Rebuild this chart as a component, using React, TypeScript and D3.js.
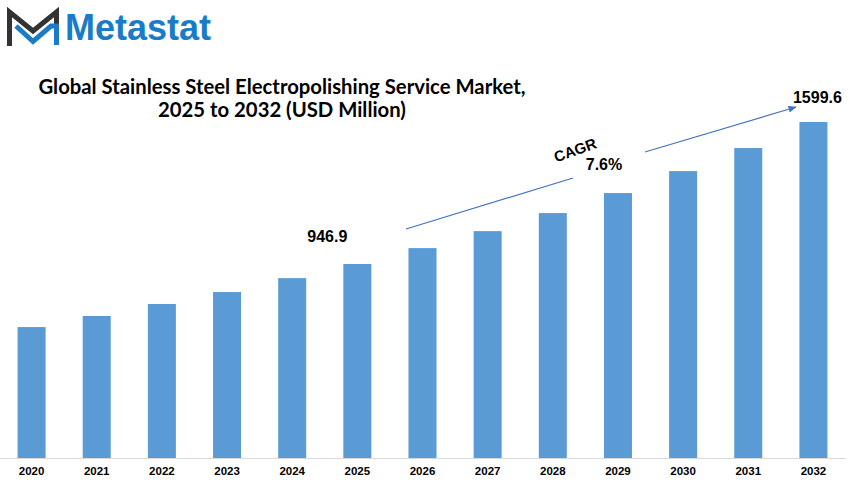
import React, { useEffect, useRef } from 'react';
import * as d3 from 'd3';

const years = ['2020', '2021', '2022', '2023', '2024', '2025', '2026', '2027', '2028', '2029', '2030', '2031', '2032'];
const marketSize = [657, 708, 763, 818, 882, 946.9, 1020, 1098, 1181, 1273, 1374, 1480, 1599.6];
const labelledYears = ['2025', '2032'];
const cagrText = ['CAGR', '7.6%'];
const titleLines = ['Global Stainless Steel Electropolishing Service Market,', '2025 to 2032 (USD Million)'];

const App = () => {
    const ref = useRef<SVGSVGElement>(null);

    useEffect(() => {
        const width = 850;
        const height = 480;
        const baseline = 458;

        const svg = d3.select(ref.current);
        svg.selectAll('*').remove();

        svg.append('rect')
            .attr('width', width)
            .attr('height', height)
            .attr('fill', '#ffffff');

        // Logo: stylised M mark plus wordmark
        const logo = svg.append('g');
        logo.append('path')
            .attr('d', 'M9.5,46 L9.5,12 L33,31 L56.5,12 L56.5,25')
            .attr('fill', 'none')
            .attr('stroke', '#333333')
            .attr('stroke-width', 5)
            .attr('stroke-linejoin', 'miter');
        logo.append('path')
            .attr('d', 'M16,26 L33,41.5 L51,26 L56.5,26 L56.5,45')
            .attr('fill', 'none')
            .attr('stroke', '#1a7cc9')
            .attr('stroke-width', 5)
            .attr('stroke-linejoin', 'miter');
        logo.append('text')
            .attr('x', 65)
            .attr('y', 40)
            .attr('font-family', 'Liberation Sans, Arial, sans-serif')
            .attr('font-weight', 'bold')
            .attr('font-size', 36)
            .attr('fill', '#1a7cc9')
            .text('Metastat');

        // Title
        svg.append('g')
            .selectAll('text')
            .data(titleLines)
            .enter().append('text')
            .attr('x', 282)
            .attr('y', (d, i) => 94 + i * 23)
            .attr('text-anchor', 'middle')
            .attr('font-family', 'Lato, sans-serif')
            .attr('font-weight', 'bold')
            .attr('font-size', 20.3)
            .attr('fill', '#000000')
            .text(d => d);

        // Scales
        const x = d3.scaleBand()
            .domain(years)
            .range([-1, 846])
            .paddingInner(0.57)
            .paddingOuter(0.285);

        const y = d3.scaleLinear()
            .domain([55.2, 1599.6])
            .range([baseline, 122]);

        const data = years.map((year, i) => ({ year, value: marketSize[i] }));

        // Bars
        svg.selectAll('.bar')
            .data(data)
            .enter().append('rect')
            .attr('class', 'bar')
            .attr('x', d => x(d.year))
            .attr('y', d => y(d.value))
            .attr('width', x.bandwidth())
            .attr('height', d => baseline - y(d.value))
            .attr('fill', '#5b9bd5');

        // X axis
        const axis = svg.append('g')
            .attr('transform', `translate(0,${baseline})`)
            .call(d3.axisBottom(x).tickSize(0).tickPadding(9));
        axis.select('.domain')
            .attr('d', 'M0,0.5H846')
            .attr('stroke', '#d9d9d9')
            .attr('stroke-width', 1);
        axis.selectAll('text')
            .attr('font-family', 'Liberation Sans, Arial, sans-serif')
            .attr('font-weight', 'bold')
            .attr('font-size', 11.5)
            .attr('fill', '#000000');

        // Value labels for the 2025 and 2032 bars
        const labelOffset = { '2025': -30, '2032': 4 };
        svg.selectAll('.value-label')
            .data(data.filter(d => labelledYears.includes(d.year)))
            .enter().append('text')
            .attr('class', 'value-label')
            .attr('x', d => x(d.year) + x.bandwidth() / 2 + labelOffset[d.year])
            .attr('y', d => y(d.value) - (d.year === '2025' ? 22 : 19))
            .attr('text-anchor', 'middle')
            .attr('font-family', 'Liberation Sans, Arial, sans-serif')
            .attr('font-weight', 'bold')
            .attr('font-size', 16)
            .attr('fill', '#000000')
            .text(d => d.value.toFixed(1));

        // CAGR arrow
        const defs = svg.append('defs');
        defs.append('marker')
            .attr('id', 'arrow')
            .attr('viewBox', '0 0 10 10')
            .attr('refX', 9)
            .attr('refY', 5)
            .attr('markerWidth', 7)
            .attr('markerHeight', 7)
            .attr('orient', 'auto')
            .append('path')
            .attr('d', 'M0,1 L10,5 L0,9 z')
            .attr('fill', '#4472c4');

        const arrowLine = d3.line();
        svg.append('path')
            .attr('d', arrowLine([[406, 229], [573, 178]]))
            .attr('stroke', '#4472c4')
            .attr('stroke-width', 1.2)
            .attr('fill', 'none');
        svg.append('path')
            .attr('d', arrowLine([[645, 152], [796, 107]]))
            .attr('stroke', '#4472c4')
            .attr('stroke-width', 1.2)
            .attr('fill', 'none')
            .attr('marker-end', 'url(#arrow)');

        svg.append('text')
            .attr('transform', 'translate(577,155) rotate(-20)')
            .attr('text-anchor', 'middle')
            .attr('font-family', 'Liberation Sans, Arial, sans-serif')
            .attr('font-weight', 'bold')
            .attr('font-size', 15)
            .attr('fill', '#000000')
            .text(cagrText[0]);
        svg.append('text')
            .attr('x', 604)
            .attr('y', 170)
            .attr('text-anchor', 'middle')
            .attr('font-family', 'Liberation Sans, Arial, sans-serif')
            .attr('font-weight', 'bold')
            .attr('font-size', 16)
            .attr('fill', '#000000')
            .text(cagrText[1]);
    }, []);

    return (
        <div style={{ position: 'absolute', left: 0, top: 0 }}>
            <svg ref={ref} width={850} height={480} style={{ display: 'block' }} />
        </div>
    );
};

export default App;
